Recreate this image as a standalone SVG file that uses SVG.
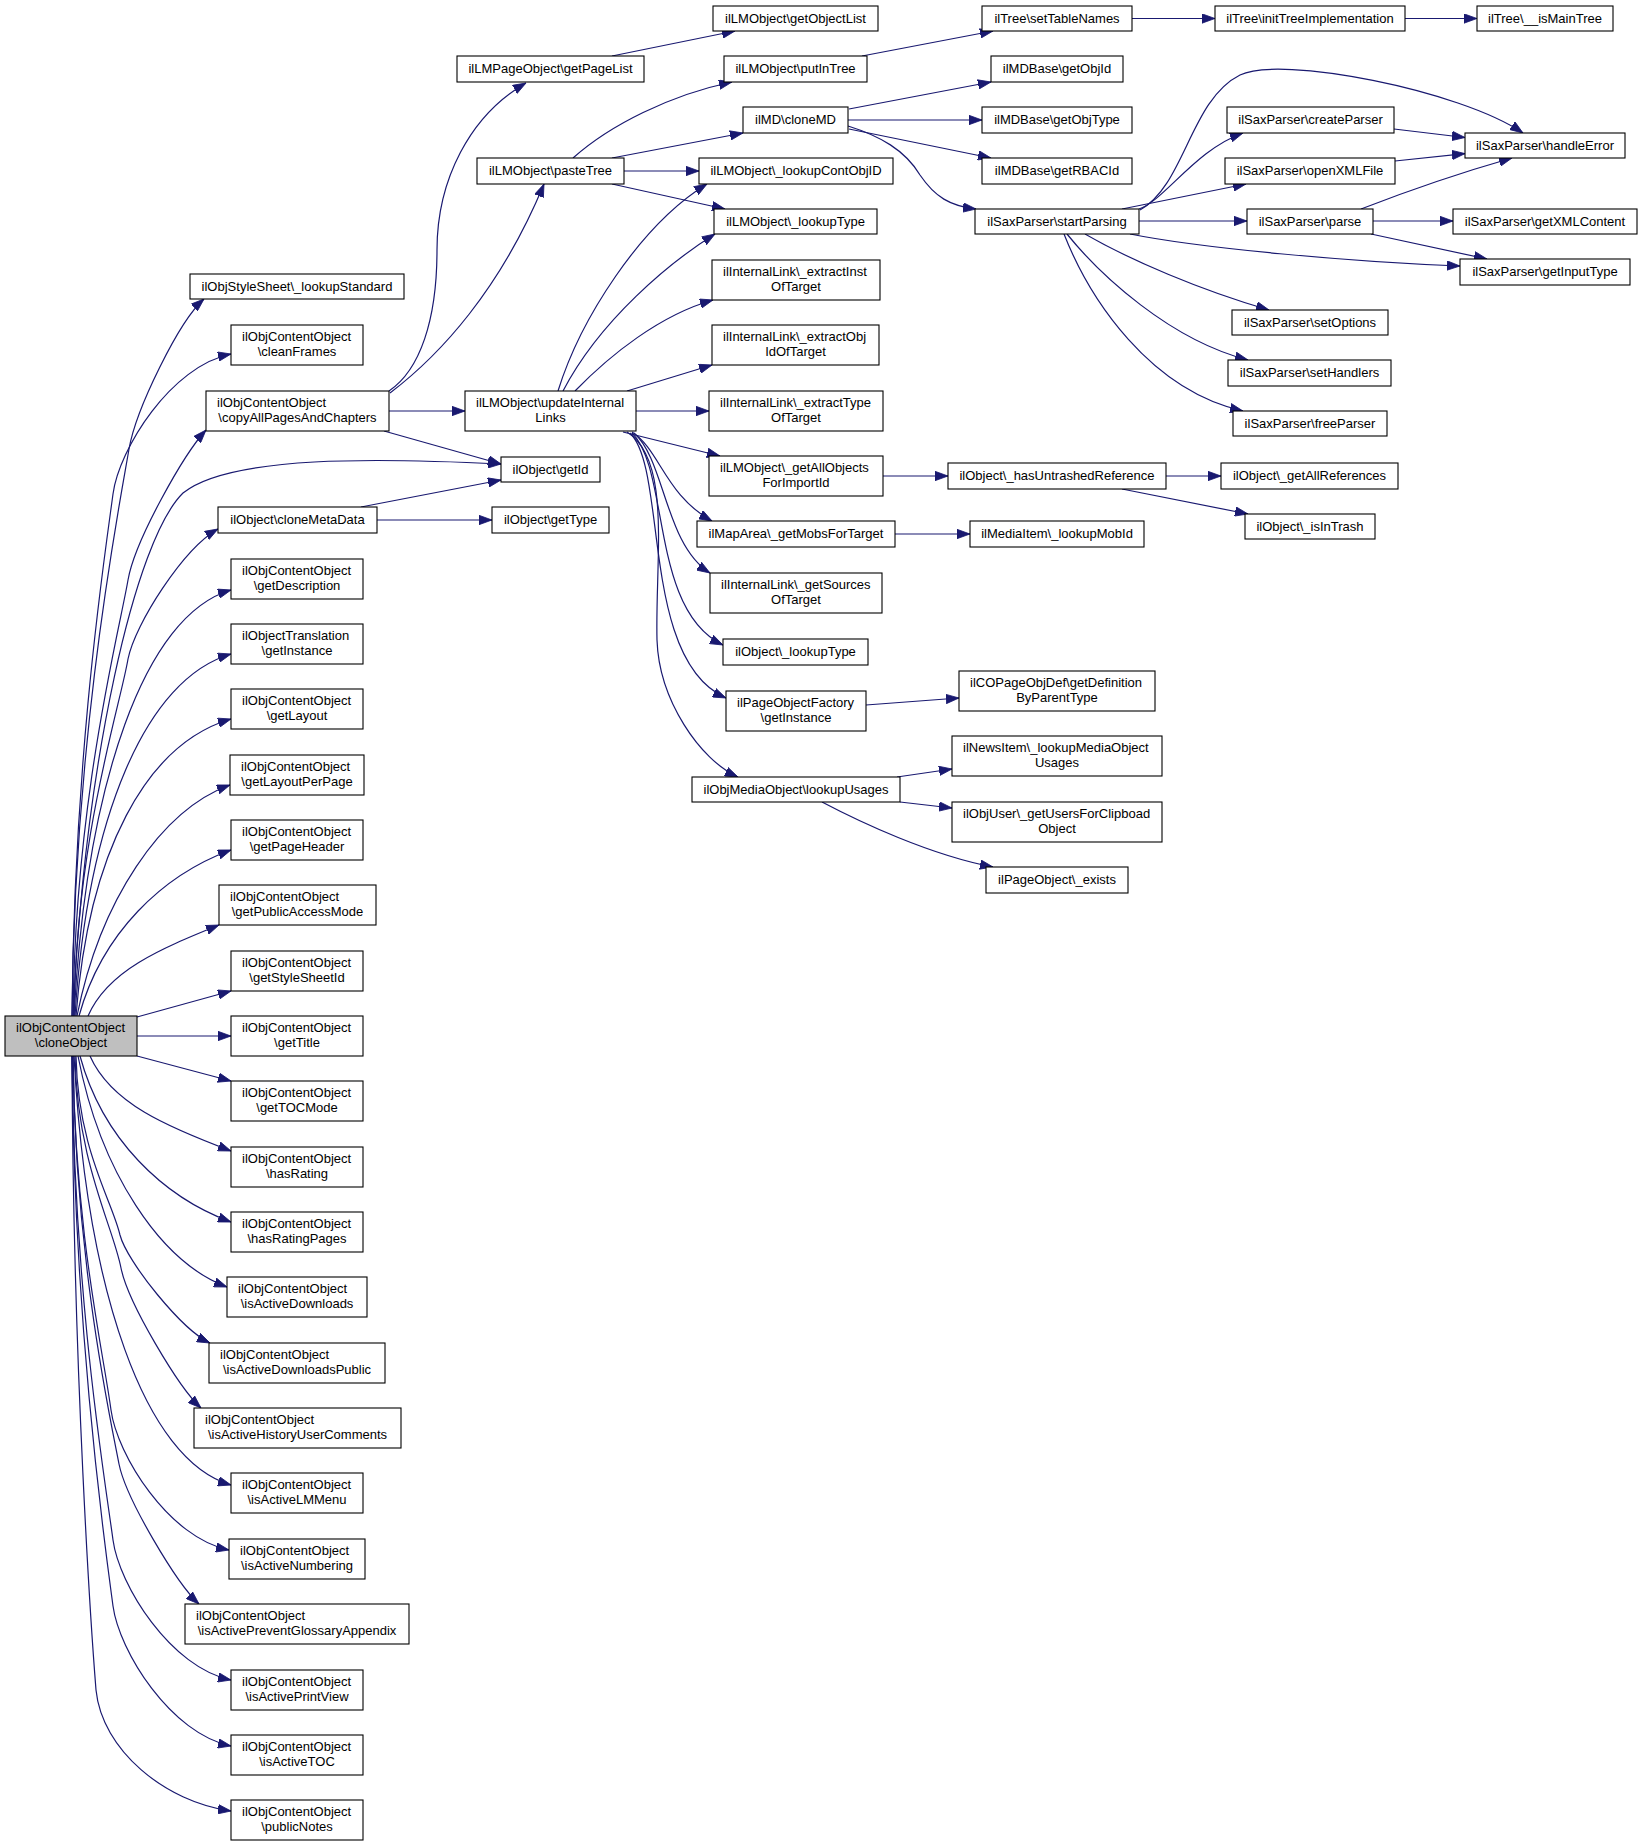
<svg xmlns="http://www.w3.org/2000/svg" width="1643" height="1846" viewBox="0 0 1643 1846">
<defs>
<style>
rect{fill:#fff;stroke:#000;stroke-width:1.1}
.root rect{fill:#bfbfbf}
text{font-family:"Liberation Sans",Arial,Helvetica,sans-serif;font-size:13px;fill:#000}
.c{text-anchor:middle}
#edges path{fill:none;stroke:#191970;stroke-width:1.2;marker-end:url(#a)}
</style>
<marker id="a" viewBox="0 0 13 10" refX="13" refY="5" markerWidth="13" markerHeight="10" markerUnits="userSpaceOnUse" orient="auto"><path d="M0,0.3 L13,5 L0,9.7 z" fill="#191970" stroke="#191970" stroke-width="0.8"/></marker>
</defs>
<rect x="0" y="0" width="1643" height="1846" style="fill:#fff;stroke:none"/>
<g id="edges">
<!-- cloneObject fan up -->
<path d="M72,1016 C74,732 121,497 129,449 C136,409 179,321 204,299"/>
<path d="M72,1016 C74,755 105,554 113,494 C119,449 171,366 231,354"/>
<path d="M73,1016 C75,798 120,628 128,580 C135,540 184,454 206,430"/>
<path d="M73,1016 C85,760 135,540 183,493 C230,455 380,458 501,464"/>
<path d="M74,1016 C76,838 120,707 128,659 C135,624 183,549 218,529"/>
<path d="M74,1016 C86.6,781.7 144.6,615 231,590"/>
<path d="M75,1016 C87.6,817 145.6,679 231,654"/>
<path d="M76,1016 C88.4,852.6 145.8,744 231,719"/>
<path d="M77,1016 C100,900.5 161,810 230,785"/>
<path d="M79,1016 C101.8,933 162.6,875 231,850"/>
<path d="M88,1016 C107.7,970.5 160,949 219,925"/>
<path d="M137,1017 L231,991"/>
<path d="M137,1036 L231,1036"/>
<path d="M137,1056 L231,1081"/>
<!-- cloneObject fan down -->
<path d="M90,1056 C111,1103.5 167.5,1127 231,1151"/>
<path d="M80,1056 C102.6,1139 163,1197 231,1222"/>
<path d="M78,1056 C100.4,1171.5 160,1262 227,1287"/>
<path d="M76,1056 C78,1150 112,1200 120,1235 C127,1262 182,1330 210,1343"/>
<path d="M75,1056 C77,1162 113,1226 121,1268 C128,1303 179,1388 201,1408"/>
<path d="M74,1056 C86.6,1292 144.7,1460 231,1485"/>
<path d="M73,1056 C75,1233 103,1350 111,1410 C117,1455 169,1538 229,1550"/>
<path d="M73,1056 C75,1260 111,1422 119,1464 C126,1499 177,1584 199,1604"/>
<path d="M72,1056 C74,1298 105,1480 113,1540 C119,1585 171,1668 231,1680"/>
<path d="M72,1056 C74,1331 105,1546 113,1606 C119,1651 171,1734 231,1746"/>
<path d="M72,1056 C73,1373 92,1640 96,1690 C102,1750 165,1802 231,1811"/>
<!-- copyAllPagesAndChapters -->
<path d="M389,391 C420,370 437,320 437,250 C437,180 470,115 526,83"/>
<path d="M390,393 C440,355 500,290 544,184"/>
<path d="M389,411 L465,411"/>
<path d="M384,431 L501,464"/>
<!-- cloneMetaData -->
<path d="M361,507 L501,480"/>
<path d="M377,520 L492,520"/>
<!-- getPageList -->
<path d="M612,56 L735,31"/>
<!-- pasteTree -->
<path d="M573,158 C610,125 670,95 732,82"/>
<path d="M612,158 L743,133"/>
<path d="M624,171 L699,171"/>
<path d="M612,184 L725,209"/>
<!-- putInTree / tree -->
<path d="M862,56 L993,31"/>
<path d="M1132,18.5 L1215,18.5"/>
<path d="M1405,18.5 L1477,18.5"/>
<!-- cloneMD -->
<path d="M849,109 L991,82"/>
<path d="M848,120 L982,120"/>
<path d="M849,129 L991,158"/>
<path d="M848,126 C880,136 905,150 920,175 C935,197 950,206 976,209"/>
<!-- startParsing -->
<path d="M1139,209 C1165,200 1195,150 1243,133"/>
<path d="M1140,210 C1185,185 1190,100 1240,75 C1280,55 1460,90 1523,133"/>
<path d="M1122,209 L1246,184"/>
<path d="M1139,221 L1247,221"/>
<path d="M1130,234 C1200,248 1350,262 1460,266"/>
<path d="M1085,234 C1130,260 1200,290 1269,310"/>
<path d="M1067,234 C1100,275 1170,340 1248,360"/>
<path d="M1064,234 C1090,300 1150,390 1243,411"/>
<!-- sax internals -->
<path d="M1394,129 L1465,137.5"/>
<path d="M1395,161 L1465,153.6"/>
<path d="M1361,209 C1410,190 1470,170 1512,158"/>
<path d="M1373,221 L1453,221"/>
<path d="M1371,234 L1487,259"/>
<!-- updateInternalLinks -->
<path d="M558,391 C580,320 640,225 707,184"/>
<path d="M563,391 C600,320 670,262 715,234"/>
<path d="M575,391 C610,355 660,315 713,300"/>
<path d="M627,391 L712,365"/>
<path d="M636,411 L709,411"/>
<path d="M623,432 L720,456"/>
<path d="M632,432 C660,450 665,495 712,521"/>
<path d="M634,433 C665,460 665,545 710,573"/>
<path d="M632,433 C670,470 650,610 723,645"/>
<path d="M630,433 C668,470 640,660 726,698"/>
<path d="M627,432 C672,460 655,560 657,640 C659,700 700,760 738,777"/>
<!-- misc -->
<path d="M883,476 L948,476"/>
<path d="M1166,476 L1221,476"/>
<path d="M1122,489 L1248,514"/>
<path d="M895,534 L970,534"/>
<path d="M866,705 L959,698"/>
<path d="M897,777 L952,769"/>
<path d="M900,802 L952,808"/>
<path d="M822,802 C860,822 930,855 993,867"/>
</g>
<g id="n_root" class="root"><rect x="5" y="1016" width="132" height="40"/><text x="16" y="1032">ilObjContentObject</text><text class="c" x="71" y="1047">\cloneObject</text></g>
<g id="n_stylesheet"><rect x="190" y="274" width="214" height="25"/><text class="c" x="297" y="291">ilObjStyleSheet\_lookupStandard</text></g>
<g id="n_cleanframes"><rect x="231" y="325" width="132" height="40"/><text x="242" y="341">ilObjContentObject</text><text class="c" x="297" y="356">\cleanFrames</text></g>
<g id="n_copyall"><rect x="206" y="391" width="183" height="40"/><text x="217" y="407">ilObjContentObject</text><text class="c" x="297.5" y="422">\copyAllPagesAndChapters</text></g>
<g id="n_getid"><rect x="501" y="457" width="99" height="25"/><text class="c" x="550.5" y="474">ilObject\getId</text></g>
<g id="n_clonemeta"><rect x="218" y="507" width="159" height="26"/><text class="c" x="297.5" y="524">ilObject\cloneMetaData</text></g>
<g id="n_gettype"><rect x="492" y="507" width="117" height="26"/><text class="c" x="550.5" y="524">ilObject\getType</text></g>
<g id="n_getdesc"><rect x="231" y="559" width="132" height="40"/><text x="242" y="575">ilObjContentObject</text><text class="c" x="297" y="590">\getDescription</text></g>
<g id="n_transinst"><rect x="231" y="624" width="132" height="40"/><text x="242" y="640">ilObjectTranslation</text><text class="c" x="297" y="655">\getInstance</text></g>
<g id="n_getlayout"><rect x="231" y="689" width="132" height="40"/><text x="242" y="705">ilObjContentObject</text><text class="c" x="297" y="720">\getLayout</text></g>
<g id="n_layoutpp"><rect x="230" y="755" width="134" height="40"/><text x="241" y="771">ilObjContentObject</text><text class="c" x="297" y="786">\getLayoutPerPage</text></g>
<g id="n_pageheader"><rect x="231" y="820" width="132" height="40"/><text x="242" y="836">ilObjContentObject</text><text class="c" x="297" y="851">\getPageHeader</text></g>
<g id="n_publicaccess"><rect x="219" y="885" width="157" height="40"/><text x="230" y="901">ilObjContentObject</text><text class="c" x="297.5" y="916">\getPublicAccessMode</text></g>
<g id="n_stylesheetid"><rect x="231" y="951" width="132" height="40"/><text x="242" y="967">ilObjContentObject</text><text class="c" x="297" y="982">\getStyleSheetId</text></g>
<g id="n_gettitle"><rect x="231" y="1016" width="132" height="40"/><text x="242" y="1032">ilObjContentObject</text><text class="c" x="297" y="1047">\getTitle</text></g>
<g id="n_tocmode"><rect x="231" y="1081" width="132" height="40"/><text x="242" y="1097">ilObjContentObject</text><text class="c" x="297" y="1112">\getTOCMode</text></g>
<g id="n_hasrating"><rect x="231" y="1147" width="132" height="40"/><text x="242" y="1163">ilObjContentObject</text><text class="c" x="297" y="1178">\hasRating</text></g>
<g id="n_hasratingpages"><rect x="231" y="1212" width="132" height="40"/><text x="242" y="1228">ilObjContentObject</text><text class="c" x="297" y="1243">\hasRatingPages</text></g>
<g id="n_downloads"><rect x="227" y="1277" width="140" height="40"/><text x="238" y="1293">ilObjContentObject</text><text class="c" x="297" y="1308">\isActiveDownloads</text></g>
<g id="n_downloadspub"><rect x="209" y="1343" width="176" height="40"/><text x="220" y="1359">ilObjContentObject</text><text class="c" x="297" y="1374">\isActiveDownloadsPublic</text></g>
<g id="n_history"><rect x="194" y="1408" width="207" height="40"/><text x="205" y="1424">ilObjContentObject</text><text class="c" x="297.5" y="1439">\isActiveHistoryUserComments</text></g>
<g id="n_lmmenu"><rect x="231" y="1473" width="132" height="40"/><text x="242" y="1489">ilObjContentObject</text><text class="c" x="297" y="1504">\isActiveLMMenu</text></g>
<g id="n_numbering"><rect x="229" y="1539" width="136" height="40"/><text x="240" y="1555">ilObjContentObject</text><text class="c" x="297" y="1570">\isActiveNumbering</text></g>
<g id="n_prevent"><rect x="185" y="1604" width="224" height="40"/><text x="196" y="1620">ilObjContentObject</text><text class="c" x="297" y="1635">\isActivePreventGlossaryAppendix</text></g>
<g id="n_printview"><rect x="231" y="1670" width="132" height="40"/><text x="242" y="1686">ilObjContentObject</text><text class="c" x="297" y="1701">\isActivePrintView</text></g>
<g id="n_toc"><rect x="231" y="1735" width="132" height="40"/><text x="242" y="1751">ilObjContentObject</text><text class="c" x="297" y="1766">\isActiveTOC</text></g>
<g id="n_publicnotes"><rect x="231" y="1800" width="132" height="40"/><text x="242" y="1816">ilObjContentObject</text><text class="c" x="297" y="1831">\publicNotes</text></g>
<g id="n_getpagelist"><rect x="457" y="56" width="187" height="26"/><text class="c" x="550.5" y="73">ilLMPageObject\getPageList</text></g>
<g id="n_getobjectlist"><rect x="713" y="6" width="165" height="25"/><text class="c" x="795.5" y="23">ilLMObject\getObjectList</text></g>
<g id="n_putintree"><rect x="724" y="56" width="143" height="26"/><text class="c" x="795.5" y="73">ilLMObject\putInTree</text></g>
<g id="n_clonemd"><rect x="743" y="107" width="105" height="26"/><text class="c" x="795.5" y="124">ilMD\cloneMD</text></g>
<g id="n_pastetree"><rect x="477" y="158" width="147" height="26"/><text class="c" x="550.5" y="175">ilLMObject\pasteTree</text></g>
<g id="n_lookupcontobjid"><rect x="699" y="158" width="194" height="26"/><text class="c" x="796" y="175">ilLMObject\_lookupContObjID</text></g>
<g id="n_lmlookuptype"><rect x="714" y="209" width="163" height="25"/><text class="c" x="795.5" y="226">ilLMObject\_lookupType</text></g>
<g id="n_extractinst"><rect x="712" y="260" width="168" height="40"/><text x="723" y="276">ilInternalLink\_extractInst</text><text class="c" x="796" y="291">OfTarget</text></g>
<g id="n_extractobj"><rect x="712" y="325" width="167" height="40"/><text x="723" y="341">ilInternalLink\_extractObj</text><text class="c" x="795.5" y="356">IdOfTarget</text></g>
<g id="n_extracttype"><rect x="709" y="391" width="174" height="40"/><text x="720" y="407">ilInternalLink\_extractType</text><text class="c" x="796" y="422">OfTarget</text></g>
<g id="n_updatelinks"><rect x="465" y="391" width="171" height="40"/><text x="476" y="407">ilLMObject\updateInternal</text><text class="c" x="550.5" y="422">Links</text></g>
<g id="n_getallobjects"><rect x="709" y="456" width="174" height="40"/><text x="720" y="472">ilLMObject\_getAllObjects</text><text class="c" x="796" y="487">ForImportId</text></g>
<g id="n_getmobs"><rect x="697" y="521" width="198" height="26"/><text class="c" x="796" y="538">ilMapArea\_getMobsForTarget</text></g>
<g id="n_getsources"><rect x="710" y="573" width="172" height="40"/><text x="721" y="589">ilInternalLink\_getSources</text><text class="c" x="796" y="604">OfTarget</text></g>
<g id="n_objlookuptype"><rect x="723" y="639" width="145" height="26"/><text class="c" x="795.5" y="656">ilObject\_lookupType</text></g>
<g id="n_pagefactory"><rect x="726" y="691" width="140" height="40"/><text x="737" y="707">ilPageObjectFactory</text><text class="c" x="796" y="722">\getInstance</text></g>
<g id="n_lookupusages"><rect x="692" y="777" width="208" height="25"/><text class="c" x="796" y="794">ilObjMediaObject\lookupUsages</text></g>
<g id="n_settablenames"><rect x="982" y="6" width="150" height="25"/><text class="c" x="1057" y="23">ilTree\setTableNames</text></g>
<g id="n_inittree"><rect x="1215" y="6" width="190" height="25"/><text class="c" x="1310" y="23">ilTree\initTreeImplementation</text></g>
<g id="n_ismaintree"><rect x="1477" y="6" width="136" height="25"/><text class="c" x="1545" y="23">ilTree\__isMainTree</text></g>
<g id="n_getobjid"><rect x="991" y="56" width="132" height="26"/><text class="c" x="1057" y="73">ilMDBase\getObjId</text></g>
<g id="n_getobjtype"><rect x="982" y="107" width="150" height="26"/><text class="c" x="1057" y="124">ilMDBase\getObjType</text></g>
<g id="n_getrbacid"><rect x="982" y="158" width="150" height="26"/><text class="c" x="1057" y="175">ilMDBase\getRBACId</text></g>
<g id="n_startparsing"><rect x="975" y="209" width="164" height="25"/><text class="c" x="1057" y="226">ilSaxParser\startParsing</text></g>
<g id="n_createparser"><rect x="1227" y="107" width="167" height="26"/><text class="c" x="1310.5" y="124">ilSaxParser\createParser</text></g>
<g id="n_handleerror"><rect x="1465" y="133" width="160" height="25"/><text class="c" x="1545" y="150">ilSaxParser\handleError</text></g>
<g id="n_openxml"><rect x="1225" y="158" width="170" height="26"/><text class="c" x="1310" y="175">ilSaxParser\openXMLFile</text></g>
<g id="n_parse"><rect x="1247" y="209" width="126" height="25"/><text class="c" x="1310" y="226">ilSaxParser\parse</text></g>
<g id="n_getxml"><rect x="1453" y="209" width="184" height="25"/><text class="c" x="1545" y="226">ilSaxParser\getXMLContent</text></g>
<g id="n_getinputtype"><rect x="1460" y="259" width="170" height="26"/><text class="c" x="1545" y="276">ilSaxParser\getInputType</text></g>
<g id="n_setoptions"><rect x="1232" y="310" width="156" height="25"/><text class="c" x="1310" y="327">ilSaxParser\setOptions</text></g>
<g id="n_sethandlers"><rect x="1228" y="360" width="163" height="26"/><text class="c" x="1309.5" y="377">ilSaxParser\setHandlers</text></g>
<g id="n_freeparser"><rect x="1233" y="411" width="154" height="25"/><text class="c" x="1310" y="428">ilSaxParser\freeParser</text></g>
<g id="n_hasuntrashed"><rect x="948" y="463" width="218" height="26"/><text class="c" x="1057" y="480">ilObject\_hasUntrashedReference</text></g>
<g id="n_getallrefs"><rect x="1221" y="463" width="177" height="26"/><text class="c" x="1309.5" y="480">ilObject\_getAllReferences</text></g>
<g id="n_isintrash"><rect x="1245" y="514" width="130" height="25"/><text class="c" x="1310" y="531">ilObject\_isInTrash</text></g>
<g id="n_lookupmobid"><rect x="970" y="521" width="174" height="26"/><text class="c" x="1057" y="538">ilMediaItem\_lookupMobId</text></g>
<g id="n_getdefinition"><rect x="959" y="671" width="196" height="40"/><text x="970" y="687">ilCOPageObjDef\getDefinition</text><text class="c" x="1057" y="702">ByParentType</text></g>
<g id="n_newsitem"><rect x="952" y="736" width="210" height="40"/><text x="963" y="752">ilNewsItem\_lookupMediaObject</text><text class="c" x="1057" y="767">Usages</text></g>
<g id="n_objuser"><rect x="952" y="802" width="210" height="40"/><text x="963" y="818">ilObjUser\_getUsersForClipboad</text><text class="c" x="1057" y="833">Object</text></g>
<g id="n_pageexists"><rect x="986" y="867" width="142" height="26"/><text class="c" x="1057" y="884">ilPageObject\_exists</text></g>
</svg>
